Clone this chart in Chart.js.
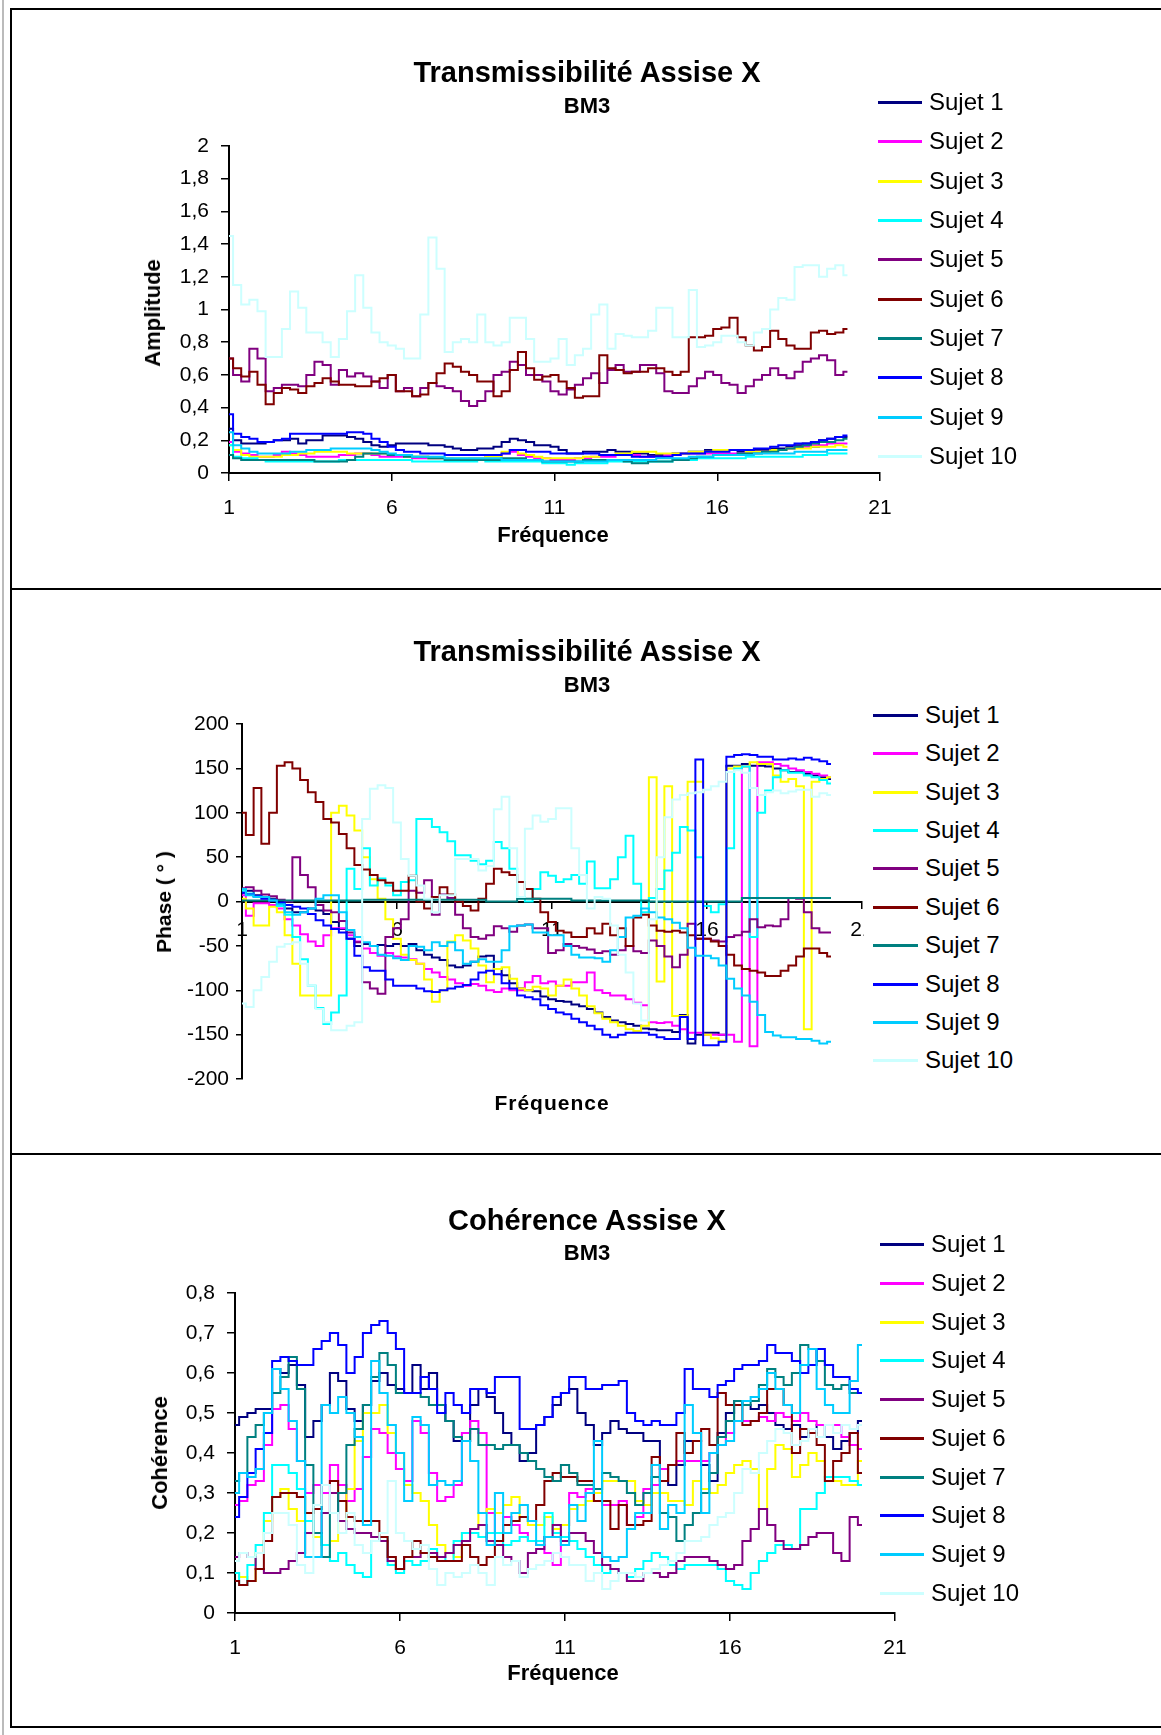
<!DOCTYPE html>
<html>
<head>
<meta charset="utf-8">
<script src="https://cdn.jsdelivr.net/npm/chart.js@4.4.1/dist/chart.umd.min.js"></script>
<style>
  body { margin: 0; background: #fff; }
  #page { position: relative; width: 1161px; height: 1735px; overflow: hidden; background: #fff;
          font-family: "Liberation Sans", Arial, Helvetica, sans-serif; color: #000; }
  .rule { position: absolute; background: #000; z-index: 5; }
  .txt { position: absolute; transform: translate(-50%, -50%); white-space: nowrap; z-index: 4; }
  .title { font-weight: bold; font-size: 29px; }
  .sub { font-weight: bold; font-size: 22px; }
  .axt { font-weight: bold; font-size: 22px; }
  .vert { transform: translate(-50%, -50%) rotate(-90deg); }
  .sw { position: absolute; height: 3px; z-index: 4; }
  .lab { position: absolute; font-size: 24px; line-height: 28px; white-space: nowrap; z-index: 4; }
  canvas { position: absolute; left: 0; top: 0; }
  .panel { position: absolute; left: 0; overflow: hidden; }
</style>
</head>
<body>
<div id="page">
  <div class="panel" style="top:0;width:1161px;height:588px"><canvas id="amp" width="1161" height="588"></canvas></div>
  <div class="panel" style="top:590px;width:864px;height:564px"><canvas id="phase" width="1161" height="564"></canvas></div>
  <div class="panel" style="top:1156px;width:1161px;height:571px"><canvas id="coh" width="1161" height="571"></canvas></div>

  <div class="rule" style="left:2px;top:0;width:2px;height:1735px;background:#bbb"></div>
  <div class="rule" style="left:10px;top:8px;width:2px;height:1720px"></div>
  <div class="rule" style="left:10px;top:8px;width:1151px;height:2px"></div>
  <div class="rule" style="left:10px;top:588px;width:1151px;height:2px"></div>
  <div class="rule" style="left:10px;top:1153px;width:1151px;height:2px"></div>
  <div class="rule" style="left:10px;top:1726px;width:1151px;height:2px"></div>

  <div class="txt title" style="left:587px;top:72px">Transmissibilité Assise X</div>
  <div class="txt sub" style="left:587px;top:106px">BM3</div>
  <div class="txt axt vert" style="left:153px;top:313px">Amplitude</div>
  <div class="txt axt" style="left:553px;top:535px">Fréquence</div>

  <div class="txt title" style="left:587px;top:651px">Transmissibilité Assise X</div>
  <div class="txt sub" style="left:587px;top:685px">BM3</div>
  <div class="txt axt vert" style="left:164px;top:902px;font-size:21px">Phase ( ° )</div>
  <div class="txt axt" style="left:552px;top:1103px;font-size:21px;letter-spacing:1px">Fréquence</div>

  <div class="txt title" style="left:587px;top:1220px">Cohérence Assise X</div>
  <div class="txt sub" style="left:587px;top:1253px">BM3</div>
  <div class="txt axt vert" style="left:160px;top:1453px">Cohérence</div>
  <div class="txt axt" style="left:563px;top:1673px">Fréquence</div>
</div>

<script>
// frequency grid read along the x axis (Hz)
const freq = [1,1.25,1.5,1.75,2,2.25,2.5,2.75,3,3.25,3.5,3.75,4,4.25,4.5,4.75,5,5.25,5.5,5.75,
  6,6.25,6.5,6.75,7,7.25,7.5,7.75,8,8.25,8.5,8.75,9,9.25,9.5,9.75,10,10.25,10.5,10.75,
  11,11.25,11.5,11.75,12,12.25,12.5,12.75,13,13.25,13.5,13.75,14,14.25,14.5,14.75,15,15.25,15.5,15.75,
  16,16.25,16.5,16.75,17,17.25,17.5,17.75,18,18.25,18.5,18.75,19,19.25,19.5,19.75,20];

const names = ["Sujet 1","Sujet 2","Sujet 3","Sujet 4","Sujet 5","Sujet 6","Sujet 7","Sujet 8","Sujet 9","Sujet 10"];
const colors = ["#000080","#FF00FF","#FFFF00","#00FFFF","#800080","#800000","#008080","#0000FF","#00CCFF","#CCFFFF"];

// amplitude tick labels
const ampTicks = [0, 0.2, 0.4, 0.6, 0.8, 1, 1.2, 1.4, 1.6, 1.8, 2];
const phaseTicks = [-200, -150, -100, -50, 0, 50, 100, 150, 200];
const cohTicks = [0, 0.1, 0.2, 0.3, 0.4, 0.5, 0.6, 0.7, 0.8];
const freqTicks = [1, 6, 11, 16, 21];

// --- Transmissibilité : amplitude ---
const amp1 = [0.27,0.20,0.18,0.18,0.18, 0.19,0.20,0.20,0.21,0.18, 0.20,0.20,0.23,0.23,0.23, 0.22,0.21,0.19,0.17,0.16,
  0.17,0.18,0.18,0.18,0.18, 0.17,0.17,0.16,0.15,0.14, 0.14,0.15,0.15,0.16,0.19, 0.21,0.20,0.19,0.17,0.17, 0.16,
  0.14,0.12,0.12,0.13,0.13, 0.13,0.14,0.13,0.13,0.12, 0.12,0.11,0.11,0.11,0.12, 0.12,0.13,0.13,0.14,0.14,
  0.14,0.14,0.13,0.13,0.14, 0.14,0.15,0.15,0.16,0.17, 0.18,0.16,0.20,0.21,0.22, 0.22];
const amp2 = [0.19,0.13,0.12,0.11,0.10, 0.10,0.11,0.13,0.12,0.11, 0.10,0.10,0.10,0.10,0.11, 0.11,0.12,0.12,0.11,0.10,
  0.10,0.10,0.10,0.09,0.09, 0.09,0.09,0.09,0.08,0.08, 0.09,0.09,0.10,0.10,0.12, 0.13,0.11,0.10,0.09,0.09, 0.08,
  0.08,0.08,0.09,0.09,0.10, 0.10,0.10,0.11,0.11,0.11, 0.10,0.10,0.10,0.11,0.11, 0.12,0.12,0.12,0.12,0.12,
  0.12,0.12,0.12,0.13,0.13, 0.13,0.14,0.14,0.15,0.16, 0.16,0.17,0.17,0.18,0.18, 0.18];
const amp3 = [0.17,0.14,0.11,0.10,0.10, 0.10,0.10,0.11,0.11,0.12, 0.12,0.13,0.13,0.13,0.13, 0.12,0.12,0.12,0.12,0.12,
  0.11,0.11,0.10,0.10,0.10, 0.09,0.09,0.09,0.09,0.09, 0.09,0.09,0.10,0.10,0.13, 0.14,0.12,0.11,0.10,0.09, 0.09,
  0.09,0.09,0.09,0.10,0.10, 0.11,0.11,0.12,0.12,0.13, 0.13,0.13,0.12,0.12,0.12, 0.12,0.13,0.13,0.13,0.14,
  0.14,0.14,0.14,0.13,0.13, 0.13,0.14,0.14,0.15,0.15, 0.15,0.16,0.16,0.16,0.17, 0.16];
const amp4 = [0.17,0.10,0.09,0.09,0.08, 0.07,0.07,0.07,0.07,0.07, 0.07,0.07,0.07,0.07,0.08, 0.08,0.08,0.08,0.08,0.08,
  0.08,0.08,0.08,0.07,0.07, 0.07,0.07,0.07,0.07,0.07, 0.07,0.08,0.07,0.07,0.07, 0.07,0.07,0.07,0.07,0.06, 0.06,
  0.06,0.05,0.06,0.06,0.06, 0.06,0.07,0.07,0.07,0.07, 0.07,0.07,0.07,0.07,0.08, 0.08,0.08,0.09,0.09,0.09,
  0.09,0.09,0.09,0.10,0.10, 0.10,0.10,0.10,0.10,0.10, 0.11,0.11,0.11,0.12,0.12, 0.12];
const amp5 = [0.70,0.60,0.56,0.76,0.70, 0.50,0.52,0.54,0.54,0.53, 0.60,0.68,0.66,0.54,0.63, 0.59,0.61,0.59,0.56,0.52,
  0.60,0.50,0.52,0.47,0.52, 0.55,0.53,0.52,0.50,0.44, 0.41,0.44,0.50,0.60,0.62, 0.68,0.66,0.60,0.60,0.56, 0.50,
  0.48,0.51,0.54,0.58,0.61, 0.55,0.63,0.66,0.62,0.62, 0.66,0.66,0.61,0.50,0.49, 0.49,0.53,0.58,0.62,0.60,
  0.55,0.54,0.49,0.53,0.57, 0.60,0.64,0.60,0.58,0.62, 0.68,0.70,0.72,0.69,0.60, 0.62];
const amp6 = [0.70,0.64,0.59,0.62,0.54, 0.42,0.49,0.52,0.51,0.49, 0.53,0.55,0.58,0.56,0.54, 0.54,0.53,0.53,0.56,0.58,
  0.60,0.50,0.50,0.47,0.48, 0.55,0.61,0.67,0.65,0.62, 0.60,0.56,0.56,0.47,0.50, 0.63,0.74,0.64,0.57,0.59, 0.60,
  0.56,0.52,0.46,0.47,0.47, 0.72,0.64,0.63,0.61,0.62, 0.62,0.64,0.64,0.62,0.60, 0.62,0.83,0.83,0.84,0.88,
  0.89,0.95,0.83,0.78,0.75, 0.77,0.87,0.82,0.78,0.76, 0.76,0.86,0.87,0.85,0.86, 0.88];
const amp7 = [0.11,0.09,0.08,0.08,0.08, 0.08,0.08,0.08,0.08,0.08, 0.08,0.07,0.07,0.07,0.07, 0.08,0.10,0.12,0.12,0.12,
  0.11,0.11,0.10,0.10,0.10, 0.09,0.09,0.08,0.08,0.08, 0.08,0.08,0.08,0.08,0.09, 0.09,0.09,0.08,0.08,0.07, 0.07,
  0.07,0.07,0.07,0.08,0.08, 0.08,0.08,0.08,0.07,0.06, 0.06,0.07,0.07,0.07,0.08, 0.08,0.09,0.10,0.10,0.11,
  0.11,0.11,0.12,0.12,0.12, 0.13,0.13,0.14,0.15,0.16, 0.17,0.18,0.19,0.19,0.20, 0.21];
const amp8 = [0.36,0.24,0.22,0.21,0.19, 0.19,0.20,0.21,0.24,0.24, 0.24,0.24,0.24,0.24,0.24, 0.25,0.25,0.24,0.21,0.19,
  0.16,0.14,0.13,0.13,0.12, 0.12,0.12,0.11,0.11,0.11, 0.11,0.11,0.11,0.11,0.12, 0.14,0.14,0.13,0.13,0.13, 0.12,
  0.12,0.12,0.12,0.12,0.12, 0.11,0.11,0.11,0.11,0.10, 0.10,0.10,0.10,0.10,0.11, 0.12,0.12,0.12,0.13,0.13,
  0.13,0.14,0.14,0.14,0.15, 0.15,0.16,0.17,0.17,0.18, 0.18,0.19,0.20,0.21,0.22, 0.23];
const amp9 = [0.25,0.17,0.15,0.13,0.12, 0.12,0.12,0.12,0.13,0.13, 0.14,0.14,0.14,0.15,0.15, 0.15,0.15,0.15,0.14,0.13,
  0.12,0.11,0.11,0.10,0.10, 0.10,0.10,0.09,0.09,0.09, 0.09,0.09,0.09,0.09,0.08, 0.08,0.08,0.08,0.08,0.07, 0.07,
  0.07,0.07,0.07,0.07,0.07, 0.07,0.08,0.08,0.08,0.08, 0.08,0.08,0.09,0.09,0.09, 0.09,0.10,0.10,0.10,0.11,
  0.11,0.11,0.11,0.11,0.12, 0.12,0.12,0.12,0.12,0.13, 0.13,0.13,0.13,0.14,0.14, 0.14];
const amp10 = [1.45,1.15,1.03,1.06,0.99, 0.71,0.71,0.88,1.11,1.01, 0.86,0.86,0.80,0.71,0.82, 0.99,1.21,1.01,0.86,0.80,
  0.78,0.76,0.70,0.70,0.97, 1.44,1.25,0.74,0.80,0.82, 0.80,0.97,0.80,0.78,0.80, 0.95,0.95,0.82,0.68,0.68, 0.70,
  0.82,0.66,0.72,0.76,0.97, 1.03,0.76,0.85,0.84,0.83, 0.83,0.87,1.01,1.01,0.83, 0.83,1.12,0.77,0.78,0.80,
  0.84,0.84,0.80,0.78,0.86, 0.88,1.00,1.07,1.06,1.26, 1.27,1.27,1.20,1.25,1.27, 1.21];

// --- Transmissibilité : phase (degrés) ---
const ph1 = [10,12,7,5,3, -2,-8,-12,-12,-8, -10,-14,-23,-31,-42, -50,-48,-50,-49,-50,
  -48,-50,-48,-55,-60, -63,-66,-72,-74,-72, -68,-62,-61,-76,-83, -92,-98,-100,-101,-107, -110,
  -112,-113,-116,-118,-121, -125,-130,-134,-136,-138, -140,-143,-144,-145,-145, -147,-128,-160,-150,-148,
  -148,-150,153,153,155, 153,153,152,150,148, 146,146,144,142,140, 138];
const ph2 = [7,-16,-2,-2,-4, -8,-20,-27,-37,-45, -50,-38,-30,-30,-38, -45,-53,-58,-61,-58,
  -62,-63,-65,-70,-76, -80,-85,-88,-92,-95, -93,-95,-100,-102,-98, -100,-100,-91,-84,-92, -90,
  -95,-95,-91,-91,-80, -100,-103,-106,-106,-110, -114,-117,-136,-137,-136, -140,-144,-148,-148,-150,
  -150,-150,-150,-158,152, -163,157,157,155,153, 150,148,146,144,142, 140];
const ph3 = [3,-8,-27,-27,-6, -12,-38,-70,-106,-106, -106,-106,100,108,97, 80,50,25,3,-20,
  -42,-60,-66,-70,-88, -113,-100,-45,-38,-44, -53,-72,-91,-76,-74, -87,-98,-100,-96,-98, -106,
  -95,-88,-98,-106,-118, -126,-132,-136,-140,-144, -146,-140,140,-90,130, -129,-129,135,135,-150,
  -154,-157,150,152,152, 157,155,155,142,135, 138,130,-144,135,138, 140];
const ph4 = [12,9,6,4,2, -5,-15,-40,-65,-95, -120,-138,-125,-106,37, 14,60,18,26,18,
  7,22,24,93,93, 84,78,68,52,52, 46,42,46,67,60, 37,5,0,14,33, 29,
  22,25,30,20,45, 15,15,25,50,74, 20,-12,4,14,35, 55,84,80,50,-5,
  -12,-3,60,150,152, -40,100,125,140,148, 145,145,142,140,137, 133];
const ph5 = [15,16,12,8,6, 2,0,50,30,16, -4,-10,-12,-22,-35, -46,-91,-98,-104,-40,
  -30,-20,12,10,24, -15,8,4,-15,-30, -40,-42,-38,-28,-30, -34,-27,-26,-30,-30, -58,
  -55,-48,-50,-52,-54, -58,-56,-60,-55,-50, -56,-58,-44,-50,-62, -74,-60,-25,-42,-42,
  -44,-45,-40,-38,-34, -20,-29,-27,-28,-20, 4,3,-12,-30,-35, -35];
const ph6 = [100,75,128,65,100, 153,157,150,137,123, 112,93,89,76,60, 41,36,30,24,21,
  12,12,29,0,-8, 5,16,8,0,-5, -10,3,20,37,33, 30,22,14,3,-12, -23,
  -33,-35,-40,-40,-30, -36,-25,-38,-30,-50, -18,-15,-27,-33,-34, -33,-35,-38,-42,-42,
  -45,-50,-60,-72,-76, -78,-80,-84,-84,-78, -72,-62,-53,-53,-58, -62];
const ph7 = [1,1,1,1,1, 1,1,1,1,1, 1,1,1,1,1, 1,2,2,2,2,
  2,2,2,2,2, 2,2,2,2,2, 2,2,0,0,0, 0,3,3,3,3, 3,
  3,3,1,1,1, 1,1,1,1,1, 1,1,0,0,0, 0,0,0,0,0,
  0,0,0,0,4, 4,4,4,4,4, 4,4,4,4,4, 4];
const ph8 = [10,8,6,3,1, -1,-4,-6,-8,-14, -21,-27,-31,-35,-42, -61,-74,-78,-78,-88,
  -95,-95,-95,-98,-101, -102,-100,-98,-96,-94, -88,-80,-78,-82,-92, -98,-106,-108,-110,-117, -121,
  -125,-127,-132,-136,-140, -144,-150,-153,-150,-148, -148,-148,-150,-153,-155, -155,-130,-155,160,-162,
  -162,-158,163,165,166, 165,163,163,160,160, 161,160,162,160,158, 155];
const ph9 = [14,7,5,5,1, -3,-12,-15,-12,-8, 3,7,7,-12,-32, -40,-46,-50,-60,-61,
  -64,-66,-50,-51,-55, -46,-50,-46,-55,-70, -68,-65,-68,-68,-55, -28,-27,-26,-35,-35, -38,
  -38,-50,-60,-63,-63, -64,-68,-55,-40,-18, -16,-8,-12,-18,-20, -24,-30,-52,-61,-61,
  -64,-72,-87,-98,-106, -113,-128,-147,-151,-153, -153,-155,-155,-157,-160, -158];
const ph10 = [-115,-119,-100,-85,-68, -51,-48,-46,-70,-95, -121,-136,-145,-145,-140, -136,93,127,131,128,
  89,48,29,18,3, -12,7,7,48,48, 48,35,40,104,118, 60,5,82,97,90, 93,
  105,105,60,30,-8, 5,3,-27,-60,-80, -115,-134,-20,50,95, 115,120,122,123,126,
  130,135,146,148,145, 128,120,123,125,122, 124,126,126,118,122, 120];

// --- Cohérence ---
const coh1 = [0.47,0.49,0.50,0.51,0.51, 0.61,0.60,0.62,0.57,0.44, 0.48,0.52,0.60,0.58,0.51, 0.48,0.52,0.58,0.60,0.57,
  0.56,0.55,0.62,0.56,0.60, 0.52,0.48,0.43,0.43,0.52, 0.56,0.54,0.50,0.45,0.42, 0.38,0.40,0.47,0.49,0.52, 0.55,
  0.56,0.50,0.47,0.42,0.45, 0.48,0.46,0.45,0.45,0.43, 0.43,0.36,0.32,0.37,0.43, 0.43,0.37,0.33,0.45,0.50,
  0.53,0.52,0.51,0.52,0.50, 0.47,0.46,0.47,0.44,0.45, 0.47,0.44,0.41,0.43,0.45, 0.48];
const coh2 = [0.27,0.28,0.32,0.33,0.42, 0.51,0.52,0.46,0.38,0.30, 0.32,0.30,0.37,0.32,0.28, 0.31,0.39,0.46,0.45,0.40,
  0.36,0.33,0.48,0.45,0.35, 0.28,0.29,0.32,0.45,0.48, 0.45,0.25,0.20,0.24,0.22, 0.20,0.18,0.17,0.15,0.12, 0.22,
  0.30,0.29,0.31,0.28,0.27, 0.27,0.28,0.22,0.24,0.31, 0.32,0.36,0.37,0.38,0.38, 0.38,0.38,0.40,0.42,0.45,
  0.48,0.48,0.48,0.49,0.48, 0.50,0.49,0.48,0.50,0.48, 0.47,0.47,0.47,0.44,0.42, 0.41];
const coh3 = [0.10,0.09,0.08,0.15,0.23, 0.29,0.31,0.26,0.23,0.20, 0.19,0.17,0.18,0.23,0.31, 0.43,0.50,0.50,0.52,0.45,
  0.40,0.32,0.30,0.28,0.22, 0.17,0.15,0.14,0.20,0.21, 0.25,0.26,0.25,0.27,0.29, 0.24,0.22,0.22,0.24,0.21, 0.22,
  0.26,0.27,0.28,0.30,0.33, 0.33,0.33,0.33,0.28,0.27, 0.30,0.30,0.28,0.28,0.27, 0.33,0.31,0.30,0.32,0.35,
  0.37,0.38,0.36,0.26,0.36, 0.42,0.41,0.34,0.37,0.40, 0.38,0.34,0.33,0.32,0.32, 0.38];
const coh4 = [0.10,0.07,0.12,0.17,0.25, 0.37,0.37,0.35,0.31,0.23, 0.20,0.17,0.13,0.15,0.12, 0.10,0.09,0.18,0.19,0.12,
  0.10,0.13,0.12,0.13,0.16, 0.14,0.13,0.18,0.20,0.20, 0.19,0.20,0.20,0.17,0.18, 0.19,0.18,0.18,0.25,0.20, 0.19,
  0.18,0.16,0.14,0.12,0.10, 0.11,0.10,0.09,0.11,0.13, 0.15,0.14,0.12,0.11,0.12, 0.12,0.12,0.12,0.11,0.08,
  0.07,0.06,0.10,0.13,0.15, 0.17,0.17,0.16,0.26,0.26, 0.30,0.34,0.34,0.34,0.33, 0.32];
const coh5 = [0.14,0.15,0.14,0.11,0.10, 0.10,0.11,0.13,0.15,0.20, 0.20,0.25,0.30,0.23,0.21, 0.20,0.20,0.19,0.18,0.13,
  0.11,0.14,0.14,0.15,0.15, 0.14,0.15,0.17,0.18,0.21, 0.22,0.18,0.17,0.14,0.13, 0.10,0.15,0.16,0.19,0.22, 0.18,
  0.20,0.20,0.18,0.15,0.12, 0.11,0.10,0.08,0.08,0.10, 0.10,0.09,0.10,0.13,0.14, 0.14,0.14,0.13,0.12,0.11,
  0.12,0.18,0.21,0.26,0.22, 0.18,0.16,0.16,0.17,0.19, 0.20,0.20,0.15,0.13,0.24, 0.22];
const coh6 = [0.08,0.07,0.08,0.11,0.18, 0.29,0.30,0.30,0.29,0.25, 0.26,0.32,0.33,0.28,0.24, 0.23,0.23,0.23,0.19,0.14,
  0.11,0.14,0.18,0.15,0.14, 0.13,0.13,0.13,0.17,0.14, 0.12,0.14,0.18,0.22,0.23, 0.24,0.23,0.27,0.33,0.35, 0.34,
  0.34,0.33,0.33,0.28,0.28, 0.21,0.27,0.22,0.22,0.23, 0.39,0.33,0.37,0.45,0.40, 0.43,0.46,0.42,0.55,0.52,
  0.52,0.47,0.48,0.50,0.56, 0.56,0.52,0.40,0.46,0.45, 0.42,0.33,0.38,0.40,0.45, 0.35];
const coh7 = [0.33,0.35,0.44,0.47,0.50, 0.55,0.59,0.64,0.56,0.37, 0.20,0.14,0.25,0.30,0.42, 0.46,0.52,0.59,0.65,0.62,
  0.55,0.55,0.55,0.54,0.52, 0.52,0.48,0.44,0.43,0.46, 0.42,0.42,0.41,0.42,0.42, 0.40,0.38,0.36,0.34,0.33, 0.37,
  0.35,0.32,0.32,0.31,0.35, 0.34,0.33,0.30,0.27,0.30, 0.34,0.25,0.24,0.18,0.22, 0.25,0.30,0.35,0.44,0.48,
  0.53,0.52,0.53,0.57,0.61, 0.59,0.57,0.60,0.67,0.66, 0.63,0.57,0.56,0.57,0.55, 0.55];
const coh8 = [0.24,0.29,0.35,0.41,0.45, 0.63,0.64,0.63,0.62,0.62, 0.66,0.68,0.70,0.67,0.60, 0.64,0.70,0.72,0.73,0.70,
  0.66,0.55,0.55,0.59,0.56, 0.50,0.55,0.52,0.50,0.56, 0.56,0.55,0.59,0.59,0.59, 0.46,0.46,0.47,0.49,0.54, 0.55,
  0.59,0.59,0.56,0.56,0.57, 0.57,0.58,0.50,0.48,0.47, 0.48,0.47,0.47,0.50,0.61, 0.56,0.56,0.54,0.57,0.58,
  0.61,0.62,0.62,0.63,0.67, 0.65,0.65,0.63,0.60,0.62, 0.66,0.62,0.59,0.59,0.56, 0.55];
const coh9 = [0.30,0.35,0.34,0.36,0.50, 0.61,0.56,0.48,0.38,0.14, 0.14,0.52,0.50,0.54,0.50, 0.44,0.22,0.63,0.55,0.47,
  0.40,0.28,0.49,0.47,0.32, 0.33,0.32,0.33,0.43,0.38, 0.25,0.17,0.30,0.20,0.25, 0.27,0.23,0.17,0.19,0.19, 0.17,
  0.27,0.23,0.30,0.43,0.14, 0.13,0.14,0.21,0.25,0.25, 0.37,0.21,0.27,0.25,0.52, 0.45,0.25,0.40,0.42,0.43,
  0.48,0.53,0.54,0.56,0.60, 0.56,0.52,0.50,0.62,0.66, 0.56,0.52,0.50,0.50,0.58, 0.67];
const coh10 = [0.13,0.15,0.14,0.15,0.20, 0.25,0.25,0.22,0.12,0.10, 0.27,0.32,0.25,0.20,0.25, 0.17,0.15,0.18,0.20,0.33,
  0.20,0.18,0.16,0.17,0.11, 0.07,0.10,0.09,0.10,0.12, 0.10,0.07,0.14,0.12,0.13, 0.09,0.11,0.12,0.13,0.15, 0.14,
  0.12,0.12,0.08,0.10,0.06, 0.08,0.10,0.10,0.09,0.10, 0.11,0.12,0.13,0.15,0.18, 0.18,0.19,0.22,0.24,0.25,
  0.30,0.36,0.35,0.40,0.43, 0.46,0.45,0.42,0.43,0.46, 0.44,0.47,0.45,0.47,0.46, 0.47];

Chart.defaults.font.family = '"Liberation Sans", Arial, Helvetica, sans-serif';
Chart.defaults.color = "#000";

function frNum(v) {
  return String(Math.round(v * 10) / 10).replace(".", ",");
}

function buildChart(id, series, o) {
  const canvas = document.getElementById(id);
  return new Chart(canvas, {
    type: "line",
    data: {
      datasets: series.map((vals, i) => ({
        label: names[i],
        data: freq.map((f, k) => ({ x: f, y: vals[k] })),
        borderColor: colors[i],
        backgroundColor: colors[i],
        borderWidth: 2,
        pointRadius: 0,
        stepped: "middle",
        fill: false,
        order: series.length - 1 - i,
      })),
    },
    options: {
      responsive: false,
      animation: false,
      events: [],
      layout: { padding: o.pad },
      plugins: {
        legend: { display: false },
        tooltip: { enabled: false },
      },
      scales: {
        x: {
          type: "linear",
          position: o.xPos,
          min: freqTicks[0],
          max: freqTicks[freqTicks.length - 1],
          afterBuildTicks: (s) => { s.ticks = freqTicks.map((v) => ({ value: v })); },
          ticks: { color: "#000", font: { size: 21 }, padding: o.xPad, maxRotation: 0, autoSkip: false },
          grid: { drawOnChartArea: false, drawTicks: true, tickLength: o.xTick, color: "#000", lineWidth: 1.5 },
          border: { display: true, color: "#000", width: 2 },
          afterFit: (s) => { s.height = 60; },
        },
        y: {
          type: "linear",
          min: o.yTicks[0],
          max: o.yTicks[o.yTicks.length - 1],
          afterBuildTicks: (s) => { s.ticks = o.yTicks.map((v) => ({ value: v })); },
          ticks: { color: "#000", font: { size: 21 }, padding: o.yPad, callback: o.yFmt },
          grid: { drawOnChartArea: false, drawTicks: true, tickLength: o.yTick, color: "#000", lineWidth: 1.5 },
          border: { display: true, color: "#000", width: 2 },
          afterFit: (s) => { s.width = 80; },
        },
      },
    },
  });
}

function buildLegend(x0, y0, gap, swW) {
  const page = document.getElementById("page");
  names.forEach((n, i) => {
    const y = y0 + gap * i;
    const sw = document.createElement("div");
    sw.className = "sw";
    sw.style.left = x0 + "px";
    sw.style.top = (y - 1) + "px";
    sw.style.width = swW + "px";
    sw.style.background = colors[i];
    page.appendChild(sw);
    const lab = document.createElement("div");
    lab.className = "lab";
    lab.style.left = (x0 + swW + 7) + "px";
    lab.style.top = (y - 14) + "px";
    lab.textContent = n;
    page.appendChild(lab);
  });
}

buildChart("amp", [amp1, amp2, amp3, amp4, amp5, amp6, amp7, amp8, amp9, amp10], {
  pad: { left: 149, top: 146, right: 281, bottom: 55 },
  xPos: "bottom", xPad: 15, xTick: 8,
  yTicks: ampTicks, yPad: 12, yTick: 8, yFmt: frNum,
});

buildChart("phase", [ph1, ph2, ph3, ph4, ph5, ph6, ph7, ph8, ph9, ph10], {
  pad: { left: 162, top: 134, right: 299, bottom: 75 },
  xPos: { y: 0 }, xPad: 10, xTick: 6,
  yTicks: phaseTicks, yPad: 7, yTick: 6, yFmt: (v) => String(v),
});

buildChart("coh", [coh1, coh2, coh3, coh4, coh5, coh6, coh7, coh8, coh9, coh10], {
  pad: { left: 155, top: 137, right: 266, bottom: 54 },
  xPos: "bottom", xPad: 15, xTick: 8,
  yTicks: cohTicks, yPad: 12, yTick: 8, yFmt: frNum,
});

buildLegend(878, 102, 39.35, 44);
buildLegend(873, 715, 38.37, 45);
buildLegend(880, 1244, 38.75, 44);
</script>
</body>
</html>
